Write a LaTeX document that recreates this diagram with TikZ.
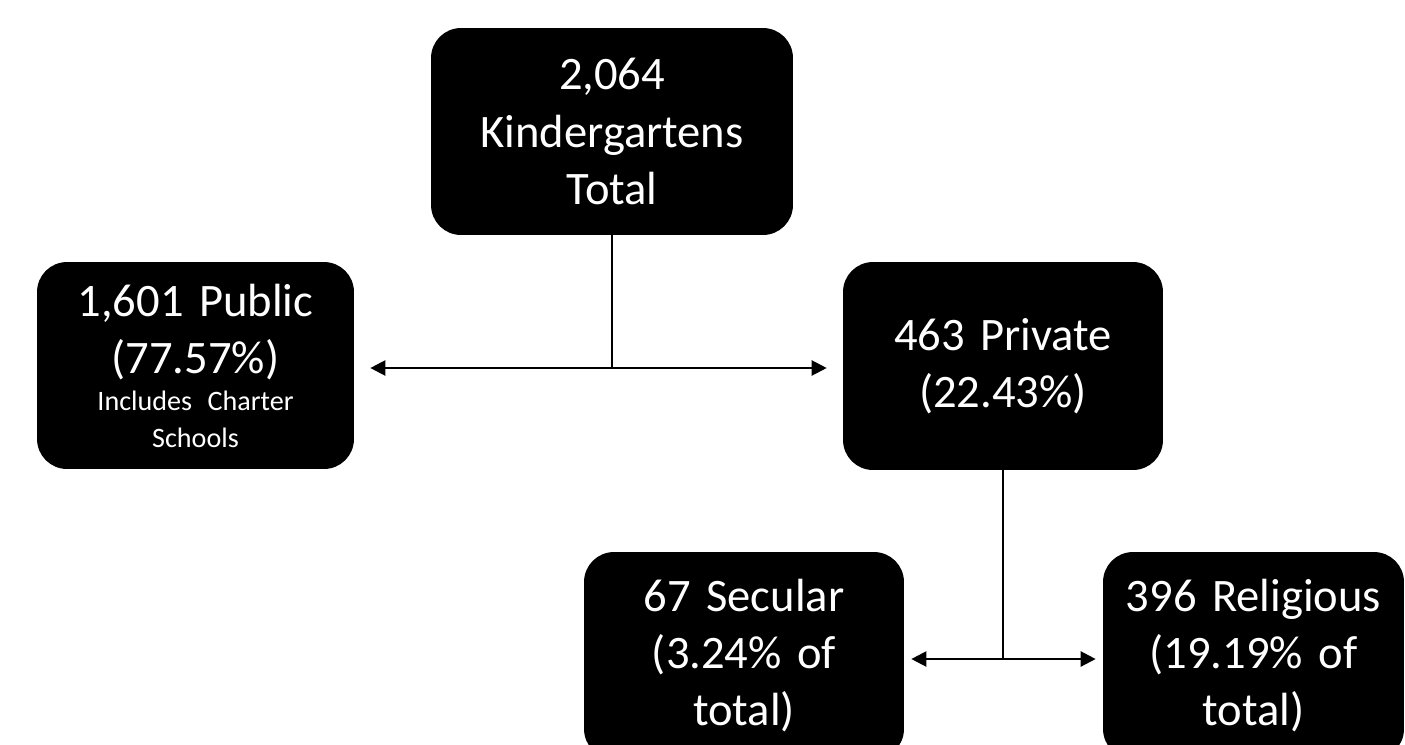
\documentclass[tikz,border=0pt]{standalone}
\usepackage{fontspec}
\setmainfont{Carlito}
\usetikzlibrary{arrows.meta}

\newcommand{\boxfont}{\fontsize{26.5}{32.5}\selectfont}
\newcommand{\notefont}{\fontsize{16}{21}\selectfont}

\tikzset{
	kbox/.style={fill=black, text=white, rounded corners=0.6cm, align=center, inner sep=0pt, minimum height=4.14cm, font=\boxfont},
	stem/.style={line width=1.3pt},
	link/.style={stem, {Triangle[length=0.3cm,width=0.3cm]}-{Triangle[length=0.3cm,width=0.3cm]}}
}

\begin{document}
\begin{tikzpicture}[x=0.02cm, y=-0.02cm]
	\useasboundingbox (0,0) rectangle (1405,744);
	\clip (0,0) rectangle (1405,744);

	\node [kbox, minimum width=7.24cm, text width=7cm] (total) at (612,131.5) {2,064\\Kindergartens\\Total};
	\node [kbox, minimum width=6.34cm, text width=6.1cm] (public) at (195.5,365.5) {1,601 Public\\(77.57\%)\par{\notefont Includes Charter\\Schools\par}};
	\node [kbox, minimum width=6.4cm, text width=6.1cm, minimum height=4.16cm] (private) at (1003,366) {463 Private\\(22.43\%)};
	\node [kbox, minimum width=6.4cm, text width=6.1cm] (secular) at (744,655.5) {67 Secular\\(3.24\% of\\total)};
	\node [kbox, minimum width=6.02cm, text width=5.9cm] (religious) at (1253.5,655.5) {396 Religious\\(19.19\% of\\total)};

	\coordinate (fork) at (612,368);
	\coordinate (subfork) at (1003,659);

	\draw [stem] (total) -- (fork);
	\draw [link, shorten <=0.32cm, shorten >=0.32cm] (public.east |- fork) -- (private.west |- fork);
	\draw [stem] (private) -- (subfork);
	\draw [link, shorten <=0.14cm, shorten >=0.14cm] (secular.east |- subfork) -- (religious.west |- subfork);
\end{tikzpicture}
\end{document}
